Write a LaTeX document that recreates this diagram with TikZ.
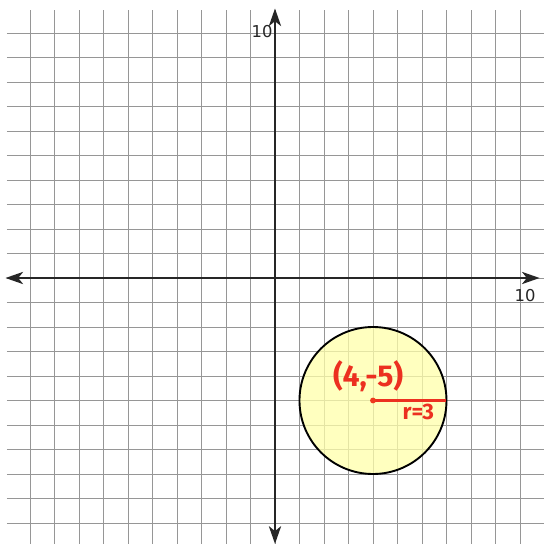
\documentclass[tikz,border=0pt]{standalone}
\usepackage{fontspec}
\setsansfont{DejaVu Sans}
\newfontfamily\handfont{Fira Sans}
\usetikzlibrary{arrows.meta}
\definecolor{gridgray}{RGB}{150,150,150}
\definecolor{penred}{RGB}{236,48,32}
\definecolor{fillyellow}{RGB}{255,255,170}
\tikzset{
  gridline/.style={draw=gridgray, line width=1.1pt},
  axisline/.style={draw=black!85, line width=2pt, -{Stealth[length=0.72cm,width=0.5cm,inset=0.2cm]}},
  axislabel/.style={font=\sffamily\fontsize{19}{19}\selectfont, text=black!85, inner sep=0pt},
  circlebox/.style={circle, draw=black, line width=2.2pt, fill=fillyellow, fill opacity=0.75, minimum size=6cm, inner sep=0pt},
  redlabel/.style={text=penred, font=\handfont\bfseries, inner sep=0pt},
}
\begin{document}
\begin{tikzpicture}
\useasboundingbox (-11.224,-10.857) rectangle (10.98,11.347);
\draw[gridline] (-10.94,-10.857) grid (10.98,10.94);
\coordinate (xl) at (-11.0,0);
\coordinate (xr) at (10.8,0);
\coordinate (yb) at (0,-10.85);
\coordinate (yt) at (0,11.0);
\draw[axisline] (0,0) -- (xr);
\draw[axisline] (0,0) -- (xl);
\draw[axisline] (0,0) -- (yt);
\draw[axisline] (0,0) -- (yb);
\node[axislabel] (xlab) at (10.21,-0.7) {10};
\node[axislabel] (ylab) at (-0.53,10.05) {10};
\node[circlebox] (circ) at (4,-5) {};
\coordinate (c) at (4,-5);
\coordinate (re) at (7,-5);
\draw[penred, line width=2.6pt] (c) -- (re);
\fill[penred!90!orange] (c) circle (0.12);
\node[redlabel, font=\handfont\bfseries\fontsize{35}{35}\selectfont] (pt) at (3.8,-4.0) {(4,-5)};
\node[redlabel, font=\handfont\bfseries\fontsize{26}{26}\selectfont] (rl) at (5.85,-5.45) {r=3};
\end{tikzpicture}
\end{document}
